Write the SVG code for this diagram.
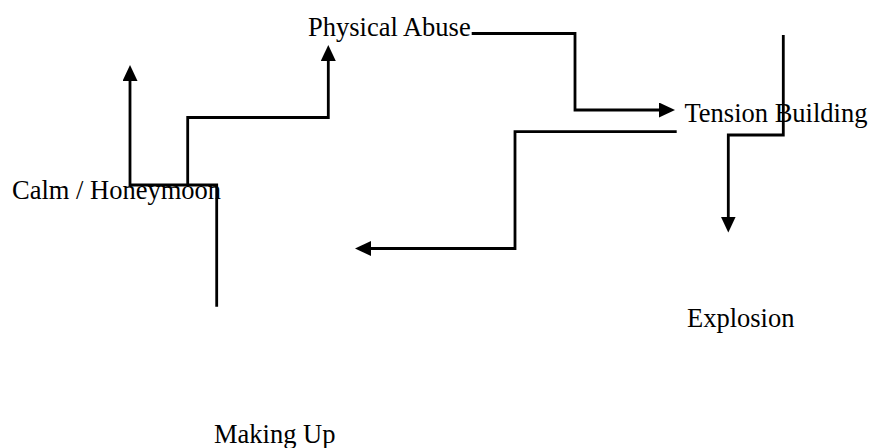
<svg xmlns="http://www.w3.org/2000/svg" width="870" height="448" viewBox="0 0 870 448">
  <style>
    .lbl { font-family: "Liberation Serif", "Times New Roman", serif; font-size: 26.5px; fill: #000; }
    .conn { fill: none; stroke: #000; stroke-width: 2.8; stroke-linejoin: miter; stroke-linecap: butt; }
  </style>
  <defs>
    <marker id="arrow" markerUnits="userSpaceOnUse" markerWidth="16" markerHeight="15" viewBox="0 0 16 15" refX="10" refY="7.5" orient="auto">
      <path d="M0,0 L16,7.5 L0,15 Z" fill="#000"/>
    </marker>
  </defs>
  <rect width="870" height="448" fill="#fff"/>
  <g id="connectors">
    <path class="conn" d="M216.7,306.7 V185 H130 V71" marker-end="url(#arrow)"/>
    <path class="conn" d="M187.7,185 V117.5 H328.3 V51" marker-end="url(#arrow)"/>
    <path class="conn" d="M471.7,33.5 H575 V110 H669" marker-end="url(#arrow)"/>
    <path class="conn" d="M783.3,35 V135 H728.3 V226.5" marker-end="url(#arrow)"/>
    <path class="conn" d="M676.7,131.7 H515 V248.5 H361" marker-end="url(#arrow)"/>
  </g>
  <g id="node-physical-abuse"><text class="lbl" x="308" y="35.7">Physical Abuse</text></g>
  <g id="node-calm-honeymoon"><text class="lbl" x="12" y="199">Calm / Honeymoon</text></g>
  <g id="node-tension-building"><text class="lbl" x="684.5" y="121.7">Tension Building</text></g>
  <g id="node-explosion"><text class="lbl" x="687" y="327">Explosion</text></g>
  <g id="node-making-up"><text class="lbl" x="214" y="443">Making Up</text></g>
</svg>
